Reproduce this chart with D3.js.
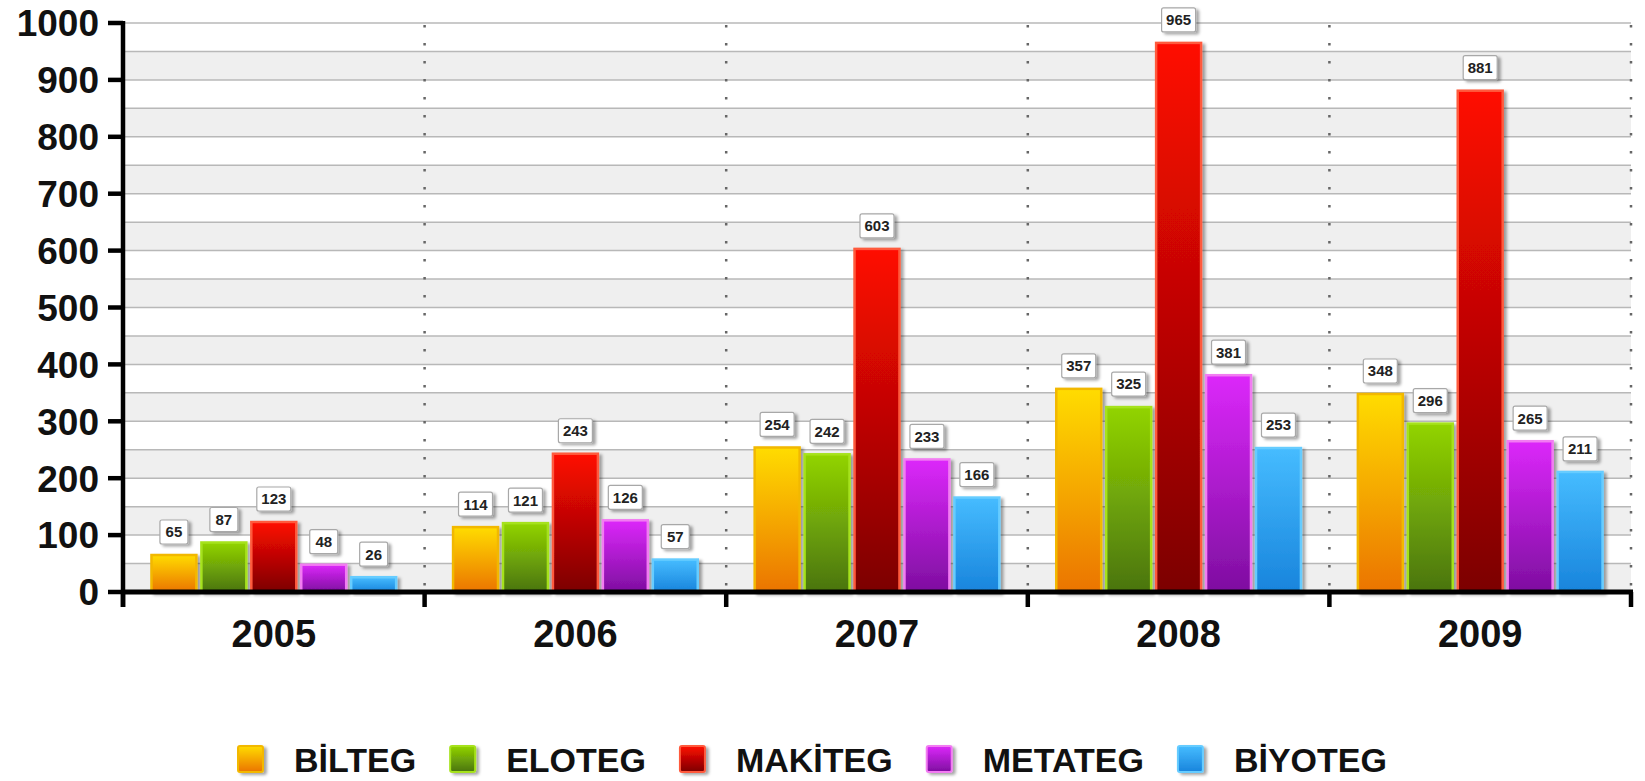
<!DOCTYPE html>
<html>
<head>
<meta charset="utf-8">
<script src="https://cdn.jsdelivr.net/npm/d3@7"></script>
<style>
  body { margin: 0; background: #fff; }
  text { font-family: "Liberation Sans", Arial, sans-serif; font-weight: bold; }
</style>
</head>
<body>
<div id="chart"></div>
<script>
// data
var years = ["2005", "2006", "2007", "2008", "2009"];
var seriesNames = ["BİLTEG", "ELOTEG", "MAKİTEG", "METATEG", "BİYOTEG"];
var bilteg  = [65, 114, 254, 357, 348];
var eloteg  = [87, 121, 242, 325, 296];
var makiteg = [123, 243, 603, 965, 881];
var metateg = [48, 126, 233, 381, 265];
var biyoteg = [26, 57, 166, 253, 211];
var yTicks = [0, 100, 200, 300, 400, 500, 600, 700, 800, 900, 1000];

var seriesValues = [bilteg, eloteg, makiteg, metateg, biyoteg];
// top colour, bottom colour, border
var palette = [
  ["#ffdc00", "#eb7400", "#f2b800"],
  ["#92d400", "#4a7410", "#a6e21c"],
  ["#ff0a00", "#7c0000", "#ff5a3c"],
  ["#dc28fa", "#7e0ea0", "#f27cf2"],
  ["#46bcff", "#1884dc", "#66ccff"]
];

var width = 1645, height = 781;
var plotLeft = 123, plotRight = 1631, plotTop = 23, plotBottom = 592;

var svg = d3.select("#chart").append("svg")
    .attr("width", width)
    .attr("height", height);

var defs = svg.append("defs");
palette.forEach(function (p, i) {
  var g = defs.append("linearGradient")
      .attr("id", "grad" + i)
      .attr("x1", 0).attr("y1", 0).attr("x2", 0).attr("y2", 1);
  g.append("stop").attr("offset", "0%").attr("stop-color", p[0]);
  g.append("stop").attr("offset", "100%").attr("stop-color", p[1]);
});
var shadow = defs.append("filter").attr("id", "shadow")
    .attr("x", "-20%").attr("y", "-20%").attr("width", "150%").attr("height", "150%");
shadow.append("feDropShadow")
    .attr("dx", 3).attr("dy", 2).attr("stdDeviation", 1.5)
    .attr("flood-color", "#000").attr("flood-opacity", 0.35);

var y = d3.scaleLinear().domain([0, 1000]).range([plotBottom, plotTop]);
var x0 = d3.scaleBand().domain(years).range([plotLeft, plotRight]);
var x1 = d3.scaleBand().domain(seriesNames).range([0, x0.bandwidth()])
    .paddingInner(0.06).paddingOuter(0.55);

// alternating bands every 50
var bandStarts = d3.range(0, 1000, 100);
svg.append("g").selectAll("rect").data(bandStarts).enter().append("rect")
    .attr("x", plotLeft)
    .attr("y", function (d) { return y(d + 50); })
    .attr("width", plotRight - plotLeft)
    .attr("height", function (d) { return y(d) - y(d + 50); })
    .attr("fill", "#efefef");

// gridlines every 50
svg.append("g").selectAll("line").data(d3.range(50, 1001, 50)).enter().append("line")
    .attr("x1", plotLeft).attr("x2", plotRight)
    .attr("y1", function (d) { return y(d); })
    .attr("y2", function (d) { return y(d); })
    .attr("stroke", "#b8b8b8").attr("stroke-width", 1.5);

// dotted separators between years
var seps = years.map(function (d) { return x0(d) + x0.bandwidth(); });
svg.append("g").selectAll("line").data(seps).enter().append("line")
    .attr("x1", function (d) { return d; }).attr("x2", function (d) { return d; })
    .attr("y1", plotTop + 2).attr("y2", plotBottom)
    .attr("stroke", "#666").attr("stroke-width", 2.5)
    .attr("stroke-dasharray", "2.5,15.5");

// bars
var groups = svg.append("g").selectAll("g").data(years).enter().append("g")
    .attr("transform", function (d) { return "translate(" + x0(d) + ",0)"; });

groups.each(function (yr, yi) {
  var g = d3.select(this);
  var bars = seriesNames.map(function (s, si) {
    return { name: s, idx: si, value: seriesValues[si][yi] };
  });

  g.selectAll("rect.bar").data(bars).enter().append("rect")
      .attr("class", "bar")
      .attr("x", function (d) { return x1(d.name) + 1; })
      .attr("y", function (d) { return y(d.value); })
      .attr("width", x1.bandwidth() - 2)
      .attr("height", function (d) { return plotBottom - y(d.value); })
      .attr("fill", function (d) { return "url(#grad" + d.idx + ")"; })
      .attr("stroke", function (d) { return palette[d.idx][2]; })
      .attr("stroke-width", 2.5)
      .attr("filter", "url(#shadow)");

  // value boxes
  var lab = g.selectAll("g.lab").data(bars).enter().append("g")
      .attr("class", "lab")
      .attr("transform", function (d) {
        return "translate(" + (x1(d.name) + x1.bandwidth() / 2) + "," + (y(d.value) - 23) + ")";
      });
  lab.append("rect")
      .attr("x", function (d) { return String(d.value).length > 2 ? -17 : -14; })
      .attr("y", -12)
      .attr("width", function (d) { return String(d.value).length > 2 ? 34 : 28; })
      .attr("height", 24)
      .attr("rx", 2)
      .attr("fill", "#fff")
      .attr("stroke", "#a8a8a8")
      .attr("stroke-width", 1.2)
      .attr("filter", "url(#shadow)");
  lab.append("text")
      .attr("text-anchor", "middle")
      .attr("dy", "0.36em")
      .attr("font-size", 15)
      .attr("fill", "#222")
      .text(function (d) { return d.value; });
});

// y axis
var yAxis = svg.append("g");
yAxis.append("line")
    .attr("x1", plotLeft).attr("x2", plotLeft)
    .attr("y1", plotTop - 2).attr("y2", plotBottom + 15)
    .attr("stroke", "#000").attr("stroke-width", 4.5);
yAxis.selectAll("line.tick").data(yTicks).enter().append("line")
    .attr("class", "tick")
    .attr("x1", plotLeft - 15).attr("x2", plotLeft)
    .attr("y1", function (d) { return y(d); })
    .attr("y2", function (d) { return y(d); })
    .attr("stroke", "#000").attr("stroke-width", 4.5);
yAxis.selectAll("text").data(yTicks).enter().append("text")
    .attr("x", plotLeft - 24)
    .attr("y", function (d) { return y(d); })
    .attr("dy", "0.36em")
    .attr("text-anchor", "end")
    .attr("font-size", 37)
    .attr("fill", "#111")
    .text(function (d) { return d; });

// x axis
var xAxis = svg.append("g");
xAxis.append("line")
    .attr("x1", plotLeft - 2).attr("x2", plotRight + 2)
    .attr("y1", plotBottom).attr("y2", plotBottom)
    .attr("stroke", "#000").attr("stroke-width", 5);
xAxis.selectAll("line.tick").data([plotLeft].concat(seps)).enter().append("line")
    .attr("class", "tick")
    .attr("x1", function (d) { return d; }).attr("x2", function (d) { return d; })
    .attr("y1", plotBottom).attr("y2", plotBottom + 15)
    .attr("stroke", "#000").attr("stroke-width", 4.5);
xAxis.selectAll("text").data(years).enter().append("text")
    .attr("x", function (d) { return x0(d) + x0.bandwidth() / 2; })
    .attr("y", plotBottom + 55)
    .attr("text-anchor", "middle")
    .attr("font-size", 38)
    .attr("fill", "#111")
    .text(function (d) { return d; });

// legend
var legend = svg.append("g").attr("transform", "translate(238,0)");
var lx = 0;
seriesNames.forEach(function (s, i) {
  var item = legend.append("g").attr("transform", "translate(" + lx + ",0)");
  item.append("rect")
      .attr("x", 0).attr("y", 746)
      .attr("width", 25).attr("height", 26)
      .attr("rx", 2)
      .attr("fill", "url(#grad" + i + ")")
      .attr("stroke", palette[i][2])
      .attr("stroke-width", 2)
      .attr("filter", "url(#shadow)");
  var t = item.append("text")
      .attr("x", 56).attr("y", 772)
      .attr("font-size", 34)
      .attr("fill", "#111")
      .text(s);
  lx += 56 + t.node().getComputedTextLength() + 34;
});
</script>
</body>
</html>
